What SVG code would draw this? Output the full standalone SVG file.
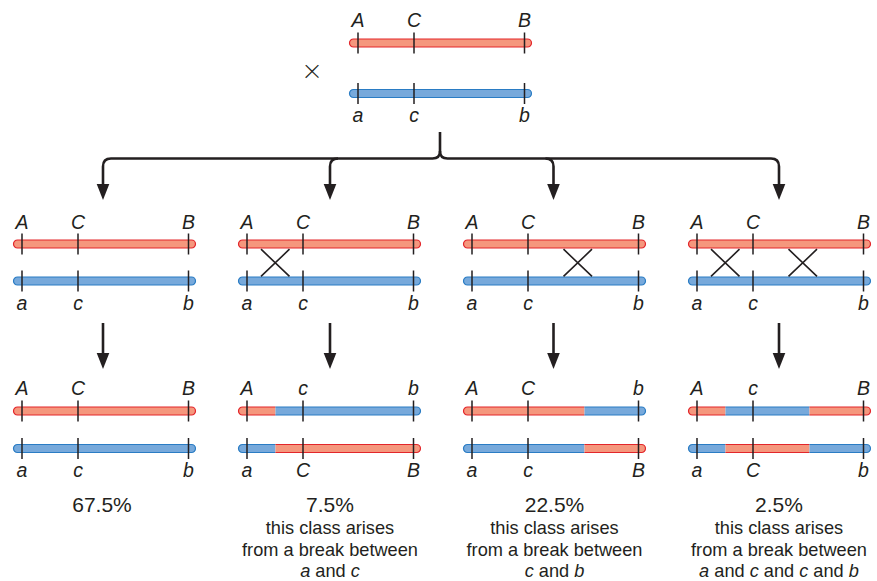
<svg xmlns="http://www.w3.org/2000/svg" xmlns:xlink="http://www.w3.org/1999/xlink" width="877" height="581" viewBox="0 0 877 581">
<style>
text{font-family:"Liberation Sans",Arial,Helvetica,sans-serif;fill:#231F20}
.lb{font-size:19.5px;font-style:italic;text-anchor:middle}
.pc{font-size:21px;text-anchor:middle}
.tx{font-size:18.2px;text-anchor:middle}
.it{font-style:italic}
.red{fill:#F5977D;stroke:#E3262B;stroke-width:1.2}
.blue{fill:#77A9DB;stroke:#2A7CC4;stroke-width:1.2}
.rf{fill:#F5977D;stroke:none}
.bf{fill:#77A9DB;stroke:none}
.rs{fill:none;stroke:#E3262B;stroke-width:1.2}
.bs{fill:none;stroke:#2A7CC4;stroke-width:1.2}
.tick{fill:none;stroke:#231F20;stroke-width:1.5}
.xo{fill:none;stroke:#231F20;stroke-width:1.6}
.con{fill:none;stroke:#231F20;stroke-width:2.6}
</style>
<defs>
<rect id="bar" x="0" y="-4" width="182" height="8" rx="4"/>
<path id="tk" d="M8.5,-10.5V10.5M64.5,-10.5V10.5M175,-10.5V10.5"/>
<marker id="ah" markerUnits="userSpaceOnUse" markerWidth="17" markerHeight="14" viewBox="0 -7 17 14" refX="0" refY="0" orient="auto">
<path d="M0,-6.3L16,0L0,6.3Z" fill="#231F20"/>
</marker>
</defs>

<g id="parents" transform="translate(349.5,0)">
<use href="#bar" class="red" y="43"/>
<use href="#tk" class="tick" y="43"/>
<use href="#bar" class="blue" y="93.5"/>
<use href="#tk" class="tick" y="93.5"/>
<text class="lb" x="8.5" y="27">A</text>
<text class="lb" x="64.5" y="27">C</text>
<text class="lb" x="175" y="27">B</text>
<text class="lb" x="8.5" y="121.5">a</text>
<text class="lb" x="64.5" y="121.5">c</text>
<text class="lb" x="175" y="121.5">b</text>
</g>
<text id="cross" x="312" y="82" style="font-family:Lato,'Liberation Sans',sans-serif;font-weight:300;font-size:32px;text-anchor:middle">×</text>

<g id="connectors">
<path class="con" d="M440,132V151Q440,158.5 432.5,158.5H111Q103,158.5 103,166.5V184" marker-end="url(#ah)"/>
<path class="con" d="M440,151Q440,158.5 447.5,158.5H771Q779,158.5 779,166.5V184" marker-end="url(#ah)"/>
<path class="con" d="M338,158.5Q330,158.5 330,166.5V184" marker-end="url(#ah)"/>
<path class="con" d="M545.5,158.5Q553.5,158.5 553.5,166.5V184" marker-end="url(#ah)"/>
<path class="con" d="M103,323V353" marker-end="url(#ah)"/>
<path class="con" d="M330,323V353" marker-end="url(#ah)"/>
<path class="con" d="M553.5,323V353" marker-end="url(#ah)"/>
<path class="con" d="M779,323V353" marker-end="url(#ah)"/>
</g>

<!-- Row 1: meiosis configurations -->
<g id="m1" transform="translate(13.5,0)">
<use href="#bar" class="red" y="244"/><use href="#tk" class="tick" y="244"/>
<use href="#bar" class="blue" y="281"/><use href="#tk" class="tick" y="281"/>
<text class="lb" x="8.5" y="229">A</text><text class="lb" x="64.5" y="229">C</text><text class="lb" x="175" y="229">B</text>
<text class="lb" x="8.5" y="310">a</text><text class="lb" x="64.5" y="310">c</text><text class="lb" x="175" y="310">b</text>
</g>
<g id="m2" transform="translate(238.5,0)">
<use href="#bar" class="red" y="244"/><use href="#tk" class="tick" y="244"/>
<use href="#bar" class="blue" y="281"/><use href="#tk" class="tick" y="281"/>
<path class="xo" d="M22.5,249.2L51,276.3M51,249.2L22.5,276.3"/>
<text class="lb" x="8.5" y="229">A</text><text class="lb" x="64.5" y="229">C</text><text class="lb" x="175" y="229">B</text>
<text class="lb" x="8.5" y="310">a</text><text class="lb" x="64.5" y="310">c</text><text class="lb" x="175" y="310">b</text>
</g>
<g id="m3" transform="translate(463.5,0)">
<use href="#bar" class="red" y="244"/><use href="#tk" class="tick" y="244"/>
<use href="#bar" class="blue" y="281"/><use href="#tk" class="tick" y="281"/>
<path class="xo" d="M100,249.2L128.5,276.3M128.5,249.2L100,276.3"/>
<text class="lb" x="8.5" y="229">A</text><text class="lb" x="64.5" y="229">C</text><text class="lb" x="175" y="229">B</text>
<text class="lb" x="8.5" y="310">a</text><text class="lb" x="64.5" y="310">c</text><text class="lb" x="175" y="310">b</text>
</g>
<g id="m4" transform="translate(688.5,0)">
<use href="#bar" class="red" y="244"/><use href="#tk" class="tick" y="244"/>
<use href="#bar" class="blue" y="281"/><use href="#tk" class="tick" y="281"/>
<path class="xo" d="M22.5,249.2L51,276.3M51,249.2L22.5,276.3M100,249.2L128.5,276.3M128.5,249.2L100,276.3"/>
<text class="lb" x="8.5" y="229">A</text><text class="lb" x="64.5" y="229">C</text><text class="lb" x="175" y="229">B</text>
<text class="lb" x="8.5" y="310">a</text><text class="lb" x="64.5" y="310">c</text><text class="lb" x="175" y="310">b</text>
</g>

<!-- Row 2: products -->
<g id="p1" transform="translate(13.5,0)">
<use href="#bar" class="red" y="411"/><use href="#tk" class="tick" y="411"/>
<use href="#bar" class="blue" y="448.5"/><use href="#tk" class="tick" y="448.5"/>
<text class="lb" x="8.5" y="395">A</text><text class="lb" x="64.5" y="395">C</text><text class="lb" x="175" y="395">B</text>
<text class="lb" x="8.5" y="477">a</text><text class="lb" x="64.5" y="477">c</text><text class="lb" x="175" y="477">b</text>
</g>
<g id="p2" transform="translate(238.5,0)">
<g transform="translate(0,411)">
<path class="red" d="M37,-4H4A4,4 0 0 0 4,4H37"/>
<path class="blue" d="M37,-4H178A4,4 0 0 1 178,4H37"/>
<use href="#tk" class="tick"/>
</g>
<g transform="translate(0,448.5)">
<path class="blue" d="M37,-4H4A4,4 0 0 0 4,4H37"/>
<path class="red" d="M37,-4H178A4,4 0 0 1 178,4H37"/>
<use href="#tk" class="tick"/>
</g>
<text class="lb" x="8.5" y="395">A</text><text class="lb" x="64.5" y="395">c</text><text class="lb" x="175" y="395">b</text>
<text class="lb" x="8.5" y="477">a</text><text class="lb" x="64.5" y="477">C</text><text class="lb" x="175" y="477">B</text>
</g>
<g id="p3" transform="translate(463.5,0)">
<g transform="translate(0,411)">
<path class="red" d="M121,-4H4A4,4 0 0 0 4,4H121"/>
<path class="blue" d="M121,-4H178A4,4 0 0 1 178,4H121"/>
<use href="#tk" class="tick"/>
</g>
<g transform="translate(0,448.5)">
<path class="blue" d="M121,-4H4A4,4 0 0 0 4,4H121"/>
<path class="red" d="M121,-4H178A4,4 0 0 1 178,4H121"/>
<use href="#tk" class="tick"/>
</g>
<text class="lb" x="8.5" y="395">A</text><text class="lb" x="64.5" y="395">C</text><text class="lb" x="175" y="395">b</text>
<text class="lb" x="8.5" y="477">a</text><text class="lb" x="64.5" y="477">c</text><text class="lb" x="175" y="477">B</text>
</g>
<g id="p4" transform="translate(688.5,0)">
<g transform="translate(0,411)">
<path class="red" d="M37,-4H4A4,4 0 0 0 4,4H37"/>
<rect class="bf" x="37" y="-4" width="84" height="8"/>
<path class="bs" d="M37,-4H121M37,4H121"/>
<path class="red" d="M121,-4H178A4,4 0 0 1 178,4H121"/>
<use href="#tk" class="tick"/>
</g>
<g transform="translate(0,448.5)">
<path class="blue" d="M37,-4H4A4,4 0 0 0 4,4H37"/>
<rect class="rf" x="37" y="-4" width="84" height="8"/>
<path class="rs" d="M37,-4H121M37,4H121"/>
<path class="blue" d="M121,-4H178A4,4 0 0 1 178,4H121"/>
<use href="#tk" class="tick"/>
</g>
<text class="lb" x="8.5" y="395">A</text><text class="lb" x="64.5" y="395">c</text><text class="lb" x="175" y="395">B</text>
<text class="lb" x="8.5" y="477">a</text><text class="lb" x="64.5" y="477">C</text><text class="lb" x="175" y="477">b</text>
</g>

<!-- Captions -->
<g id="c1">
<text class="pc" x="102" y="511.5">67.5%</text>
</g>
<g id="c2">
<text class="pc" x="330" y="511.5">7.5%</text>
<text class="tx" x="330" y="533.5">this class arises</text>
<text class="tx" x="330" y="555.5">from a break between</text>
<text class="tx" x="330" y="577">
<tspan class="it">a</tspan> and <tspan class="it">c</tspan></text>
</g>
<g id="c3">
<text class="pc" x="554.5" y="511.5">22.5%</text>
<text class="tx" x="554.5" y="533.5">this class arises</text>
<text class="tx" x="554.5" y="555.5">from a break between</text>
<text class="tx" x="554.5" y="577"><tspan class="it">c</tspan> and <tspan class="it">b</tspan></text>
</g>
<g id="c4">
<text class="pc" x="779" y="511.5">2.5%</text>
<text class="tx" x="779" y="533.5">this class arises</text>
<text class="tx" x="779" y="555.5">from a break between</text>
<text class="tx" x="779" y="577"><tspan class="it">a</tspan> and <tspan class="it">c</tspan> and <tspan class="it">c</tspan> and <tspan class="it">b</tspan></text>
</g>
</svg>
